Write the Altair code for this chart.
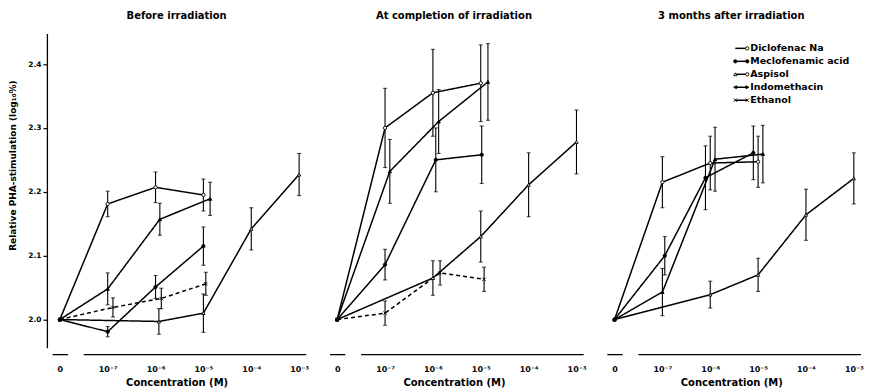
import altair as alt
import pandas as pd

# ---------------- data ----------------
PANELS = ["Before irradiation", "At completion of irradiation", "3 months after irradiation"]
DRUGS = ["Diclofenac Na", "Meclofenamic acid", "Aspisol", "Indomethacin", "Ethanol"]

# x = log10(concentration in M); -8 is the position of the "0" (control) tick
X_TICKS = [-8, -7, -6, -5, -4, -3]
X_LABELS = ["0", "10⁻⁷", "10⁻⁶", "10⁻⁵", "10⁻⁴", "10⁻³"]
Y_TICKS = [2.0, 2.1, 2.2, 2.3, 2.4]

# --- Before irradiation ---
B_DICLO_X = [-8, -7, -6, -5]
B_DICLO_Y = [2.000, 2.181, 2.207, 2.195]
B_DICLO_E = [0, 0.020, 0.024, 0.025]
B_MECLO_X = [-8, -7, -6, -5]
B_MECLO_Y = [2.000, 1.981, 2.051, 2.115]
B_MECLO_E = [0, 0.008, 0.018, 0.030]
B_ASPI_X = [-8, -5.93, -5.0, -4, -3]
B_ASPI_Y = [2.000, 1.997, 2.010, 2.142, 2.227]
B_ASPI_E = [0, 0.020, 0.030, 0.033, 0.033]
B_INDO_X = [-8, -7, -5.91, -4.86]
B_INDO_Y = [2.000, 2.048, 2.157, 2.189]
B_INDO_E = [0, 0.025, 0.025, 0.026]
B_ETH_X = [-8, -6.89, -5.88, -4.95]
B_ETH_Y = [2.000, 2.019, 2.033, 2.056]
B_ETH_E = [0, 0.015, 0.016, 0.018]

# --- At completion of irradiation ---
C_DICLO_X = [-8, -7, -6, -5]
C_DICLO_Y = [2.000, 2.300, 2.355, 2.370]
C_DICLO_E = [0, 0.062, 0.068, 0.060]
C_MECLO_X = [-8, -7, -5.94, -4.98]
C_MECLO_Y = [2.000, 2.086, 2.250, 2.258]
C_MECLO_E = [0, 0.024, 0.050, 0.045]
C_ASPI_X = [-8, -6, -5, -4, -3]
C_ASPI_Y = [2.000, 2.065, 2.130, 2.211, 2.278]
C_ASPI_E = [0, 0.027, 0.040, 0.050, 0.050]
C_INDO_X = [-8, -6.9, -5.88, -4.85]
C_INDO_Y = [2.000, 2.232, 2.310, 2.372]
C_INDO_E = [0, 0.050, 0.050, 0.060]
C_ETH_X = [-8, -7, -5.85, -4.93]
C_ETH_Y = [2.000, 2.010, 2.073, 2.063]
C_ETH_E = [0, 0.019, 0.019, 0.019]

# --- 3 months after irradiation ---
M_DICLO_X = [-8, -7, -6, -5]
M_DICLO_Y = [2.000, 2.215, 2.245, 2.247]
M_DICLO_E = [0, 0.040, 0.042, 0.040]
M_MECLO_X = [-8, -6.95, -6.1, -5.1]
M_MECLO_Y = [2.000, 2.100, 2.222, 2.261]
M_MECLO_E = [0, 0.030, 0.050, 0.042]
M_ASPI_X = [-8, -6, -5, -4, -3]
M_ASPI_Y = [2.000, 2.039, 2.070, 2.164, 2.221]
M_ASPI_E = [0, 0.021, 0.026, 0.040, 0.040]
M_INDO_X = [-8, -7, -5.9, -4.9]
M_INDO_Y = [2.000, 2.043, 2.251, 2.259]
M_INDO_E = [0, 0.037, 0.050, 0.045]

SERIES = {
    PANELS[0]: {
        "Diclofenac Na": (B_DICLO_X, B_DICLO_Y, B_DICLO_E),
        "Meclofenamic acid": (B_MECLO_X, B_MECLO_Y, B_MECLO_E),
        "Aspisol": (B_ASPI_X, B_ASPI_Y, B_ASPI_E),
        "Indomethacin": (B_INDO_X, B_INDO_Y, B_INDO_E),
        "Ethanol": (B_ETH_X, B_ETH_Y, B_ETH_E),
    },
    PANELS[1]: {
        "Diclofenac Na": (C_DICLO_X, C_DICLO_Y, C_DICLO_E),
        "Meclofenamic acid": (C_MECLO_X, C_MECLO_Y, C_MECLO_E),
        "Aspisol": (C_ASPI_X, C_ASPI_Y, C_ASPI_E),
        "Indomethacin": (C_INDO_X, C_INDO_Y, C_INDO_E),
        "Ethanol": (C_ETH_X, C_ETH_Y, C_ETH_E),
    },
    PANELS[2]: {
        "Diclofenac Na": (M_DICLO_X, M_DICLO_Y, M_DICLO_E),
        "Meclofenamic acid": (M_MECLO_X, M_MECLO_Y, M_MECLO_E),
        "Aspisol": (M_ASPI_X, M_ASPI_Y, M_ASPI_E),
        "Indomethacin": (M_INDO_X, M_INDO_Y, M_INDO_E),
    },
}

# ---------------- styling ----------------
FONT = "DejaVu Sans"
X_MARK = "M-1,-1L1,1M-1,1L1,-1"
TRI_L = "M-1,0L0.8,-0.9L0.8,0.9Z"
TRI_R = "M1,0L-0.8,-0.9L-0.8,0.9Z"
MARKER_SHAPE = {"Diclofenac Na": "circle", "Meclofenamic acid": "circle", "Aspisol": "triangle-up",
                "Indomethacin": "triangle-up", "Ethanol": X_MARK}
MARKER_FILL = {"Diclofenac Na": "white", "Meclofenamic acid": "black", "Aspisol": "white",
               "Indomethacin": "black", "Ethanol": "white"}
DASH = [[1, 0], [1, 0], [1, 0], [1, 0], [4, 3]]

# legend key: marker at the left end and at the right end of a short line
LEG_LEFT_SHAPE = [None, "circle", "triangle-up", TRI_L, X_MARK]
LEG_LEFT_FILL = [None, "black", "white", "black", "white"]
LEG_RIGHT_SHAPE = ["circle", "circle", "circle", TRI_R, X_MARK]
LEG_RIGHT_FILL = ["white", "black", "white", "black", "white"]
LEG_X0, LEG_X1, LEG_TX = 134, 146, 149      # pixel offsets inside the third panel
LEG_Y_RANGE = [15, 67]

X_DOMAIN = [-8.27, -2.85]
Y_DOMAIN = [1.956, 2.448]
W, H = 260, 315
AXIS_GAP = 7
BREAK_X0 = [-8.15, -7.5]
BREAK_X1 = [-7.83, -2.85]

rows = []
for panel, series in SERIES.items():
    for drug, (xs, ys, es) in series.items():
        for x, y, e in zip(xs, ys, es):
            rows.append({"panel": panel, "drug": drug, "x": x, "y": y, "e": e,
                         "lo": y - e, "hi": y + e,
                         "mshape": MARKER_SHAPE[drug], "mfill": MARKER_FILL[drug]})
df = pd.DataFrame(rows)
breaks = pd.DataFrame({"x0": BREAK_X0, "x1": BREAK_X1})
leg_df = pd.DataFrame({"ld": DRUGS, "ls": LEG_LEFT_SHAPE, "lf": LEG_LEFT_FILL,
                       "rs": LEG_RIGHT_SHAPE, "rf": LEG_RIGHT_FILL})

label_expr = "''"
for v, lab in zip(reversed(X_TICKS), reversed(X_LABELS)):
    label_expr = f"datum.value == {v} ? '{lab}' : ({label_expr})"

xscale = alt.Scale(domain=X_DOMAIN, nice=False, zero=False)
yscale = alt.Scale(domain=Y_DOMAIN, nice=False, zero=False)


def make_panel(i, panel):
    d = df[df.panel == panel]
    derr = d[d.e > 0]
    xaxis = alt.Axis(values=X_TICKS, labelExpr=label_expr, title="Concentration (M)",
                     domain=False, ticks=False, tickSize=0, offset=AXIS_GAP, grid=False,
                     labelPadding=11, labelFont=FONT, labelFontSize=8, labelFontWeight="bold",
                     labelColor="black", labelFlush=False, labelOverlap=False,
                     titleFont=FONT, titleFontSize=10, titleFontWeight="bold",
                     titleColor="black", titlePadding=4)
    if i == 0:
        yaxis = alt.Axis(values=Y_TICKS, format=".1f",
                         title="Relative PHA-stimulation (log₁₀%)",
                         titleX=-29, titleY=132, titleFont=FONT, titleFontSize=9,
                         titleFontWeight="bold", titleColor="black",
                         grid=False, tickSize=4, tickColor="black", tickWidth=1.2,
                         domainColor="black", domainWidth=1.3, labelPadding=2,
                         labelFont=FONT, labelFontSize=7.5, labelFontWeight="bold",
                         labelColor="black")
    else:
        yaxis = None

    X = alt.X("x:Q", scale=xscale, axis=xaxis)
    Y = alt.Y("y:Q", scale=yscale, axis=yaxis)

    lines = alt.Chart(d).mark_line(color="black", strokeWidth=1.5).encode(
        x=X, y=Y, detail="drug:N",
        strokeDash=alt.StrokeDash("drug:N", scale=alt.Scale(domain=DRUGS, range=DASH), legend=None),
        order="x:Q",
    )
    bars = alt.Chart(derr).mark_rule(color="black", strokeWidth=1.1).encode(
        x=alt.X("x:Q", scale=xscale), y=alt.Y("lo:Q", scale=yscale), y2="hi:Q")
    cap_lo = alt.Chart(derr).mark_tick(color="black", orient="horizontal", size=4, thickness=1.1).encode(
        x=alt.X("x:Q", scale=xscale), y=alt.Y("lo:Q", scale=yscale))
    cap_hi = alt.Chart(derr).mark_tick(color="black", orient="horizontal", size=4, thickness=1.1).encode(
        x=alt.X("x:Q", scale=xscale), y=alt.Y("hi:Q", scale=yscale))
    pts = alt.Chart(d).mark_point(filled=True, stroke="black", strokeWidth=0.9, size=11, opacity=1).encode(
        x=alt.X("x:Q", scale=xscale), y=alt.Y("y:Q", scale=yscale),
        shape=alt.Shape("mshape:N", scale=None),
        fill=alt.Fill("mfill:N", scale=None),
    )
    axis_line = alt.Chart(breaks).mark_rule(color="black", strokeWidth=1.3).encode(
        x=alt.X("x0:Q", scale=xscale), x2="x1:Q", y=alt.value(H + AXIS_GAP))

    body = alt.layer(axis_line, lines, bars, cap_lo, cap_hi, pts)
    title = alt.TitleParams(panel, font=FONT, fontSize=10, fontWeight="bold",
                            color="black", offset=12, anchor="middle")
    if i < 2:
        return body.properties(width=W, height=H, title=title)

    # legend drawn inside the third panel
    ly = alt.Y("ld:N", scale=alt.Scale(type="point", domain=DRUGS, range=LEG_Y_RANGE, padding=0),
               axis=None)
    leg_line = alt.Chart(leg_df).mark_rule(color="black", strokeWidth=1.5).encode(
        x=alt.value(LEG_X0), x2=alt.value(LEG_X1), y=ly)
    leg_left = alt.Chart(leg_df).transform_filter("datum.ls != null").mark_point(
        filled=True, stroke="black", strokeWidth=0.9, size=11, opacity=1).encode(
        x=alt.value(LEG_X0), y=ly,
        shape=alt.Shape("ls:N", scale=None), fill=alt.Fill("lf:N", scale=None))
    leg_right = alt.Chart(leg_df).mark_point(
        filled=True, stroke="black", strokeWidth=0.9, size=11, opacity=1).encode(
        x=alt.value(LEG_X1), y=ly,
        shape=alt.Shape("rs:N", scale=None), fill=alt.Fill("rf:N", scale=None))
    leg_text = alt.Chart(leg_df).mark_text(
        align="left", baseline="middle", font=FONT, fontSize=9.5, fontWeight="bold",
        color="black").encode(x=alt.value(LEG_TX), y=ly, text="ld:N")
    legend = alt.layer(leg_line, leg_left, leg_right, leg_text)

    return alt.layer(body, legend).resolve_scale(y="independent").properties(
        width=W, height=H, title=title)


chart = alt.HConcatChart(
    hconcat=[make_panel(i, p) for i, p in enumerate(PANELS)],
    spacing=18, bounds="flush",
).properties(
    padding={"left": 1, "top": 3, "right": 0, "bottom": 0},
    background="white",
).configure_view(strokeWidth=0, stroke="transparent")

chart.save("out.html", embed_options={"renderer": "svg", "actions": False})
